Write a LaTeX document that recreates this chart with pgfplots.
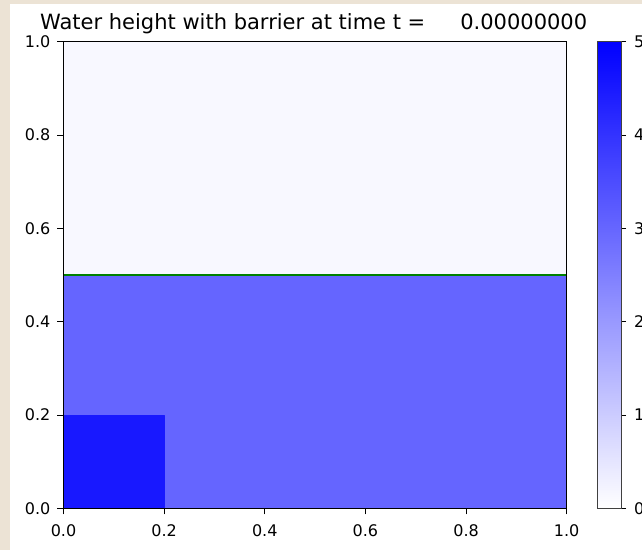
\documentclass[border=0pt]{standalone}
\usepackage{pgfplots}
\pgfplotsset{compat=1.18}
\usepackage{fontspec}
\setmainfont{DejaVu Sans}
\definecolor{beige}{RGB}{236,227,213}
\definecolor{barrier}{RGB}{0,128,0}
\begin{document}
\begin{tikzpicture}
\useasboundingbox (0pt,0pt) rectangle (642pt,550pt);
\fill[beige] (0pt,0pt) rectangle (642pt,550pt);
\fill[white] (10pt,0pt) rectangle (642pt,546pt);
\begin{axis}[
  at={(63.5pt,41.7pt)}, anchor=south west,
  scale only axis, width=503.2pt, height=466.6pt,
  xmin=0, xmax=1, ymin=0, ymax=1,
  xtick={0,0.2,0.4,0.6,0.8,1}, ytick={0,0.2,0.4,0.6,0.8,1},
  /pgf/number format/.cd, fixed, fixed zerofill, precision=1, assume math mode=true,
  /pgfplots/.cd,
  tick align=outside, tick pos=left, major tick length=6pt,
  tick style={black, line width=0.9pt},
  axis line style={line width=1pt},
  tick label style={font=\fontsize{16}{16}\selectfont, inner sep=0pt},
  xticklabel style={yshift=-10pt},
  yticklabel style={xshift=-7pt},
  axis on top,
  colormap={wb}{rgb255=(255,255,255) rgb255=(0,0,255)},
  point meta min=0, point meta max=5,
  colorbar,
  colorbar/width=23.7pt,
  colorbar style={
    at={(parent axis.south east)}, anchor=south west, xshift=22.1pt,
    height=466.6pt,
    ytick={0,1,2,3,4,5},
    yticklabels={0,1,2,3,4,5},
    ytick pos=right, yticklabel pos=right,
    tick align=outside, major tick length=5pt,
    tick style={black, line width=0.9pt},
    axis line style={line width=1pt, black!75},
    yticklabel style={font=\fontsize{16}{16}\selectfont, inner sep=0pt, xshift=8pt},
  },
]
\addplot[patch, patch type=rectangle, shader=flat corner, point meta=explicit]
 table[meta=h] {
x y h
0 0.5 0.14
1 0.5 0.14
1 1 0.14
0 1 0.14
0 0 3
1 0 3
1 0.5 3
0 0.5 3
0 0 4.5
0.2 0 4.5
0.2 0.2 4.5
0 0.2 4.5
};
\addplot[barrier, line width=1.8pt] coordinates {(0,0.5) (1,0.5)};
\end{axis}
\node[anchor=base, font=\fontsize{21}{21}\selectfont] at (313.7pt,520pt)
  {Water height with barrier at time t =\hspace{35pt}0.00000000};
\end{tikzpicture}
\end{document}
